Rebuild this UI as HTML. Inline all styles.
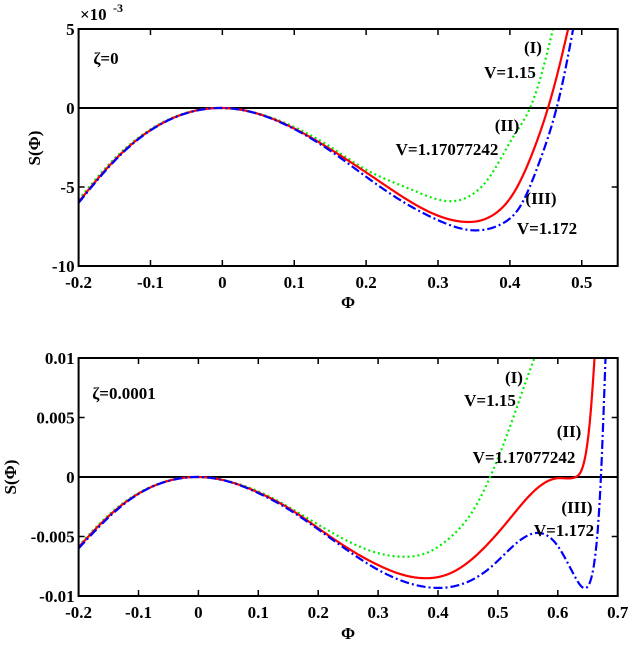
<!DOCTYPE html>
<html><head><meta charset="utf-8"><style>
body{margin:0;background:#fff}
svg text{font-family:"Liberation Serif",serif;font-weight:bold;fill:#000}
</style></head><body>
<svg id="c" width="629" height="641"></svg>
<script>
// Top panel data (units of 1e-3)
const topX=[-0.2,-0.15,-0.1,-0.05,0,0.05,0.1,0.15,0.2,0.265,0.317,0.345,0.372,0.405,0.428,0.445,0.46];
const topGreen=[-5.8,-3.2,-1.35,-0.3,0,-0.35,-1.2,-2.45,-3.9,-5.2,-5.9,-5.55,-4.35,-1.8,0,2.3,5];
const topRedX=[-0.2,-0.15,-0.1,-0.05,0,0.05,0.1,0.15,0.219,0.28,0.335,0.382,0.405,0.433,0.453,0.468,0.481];
const topRed=[-5.95,-3.3,-1.4,-0.32,0,-0.37,-1.3,-2.6,-4.66,-6.4,-7.2,-6.6,-5.4,-2.66,0,2.5,5];
const topBlueX=[-0.2,-0.15,-0.1,-0.05,0,0.05,0.1,0.15,0.2,0.25,0.3,0.34,0.39,0.414,0.442,0.465,0.477,0.488];
const topBlue=[-6.0,-3.35,-1.42,-0.33,0,-0.38,-1.33,-2.7,-4.35,-5.9,-7.1,-7.7,-7.3,-6.25,-3.3,0,2.4,5];
const topYTicks=[-10,-5,0,5];
const topXTicks=[-0.2,-0.1,0,0.1,0.2,0.3,0.4,0.5];
// Bottom panel data
const botGreenX=[-0.2,-0.15,-0.1,-0.05,0,0.05,0.1,0.15,0.2,0.25,0.3,0.34,0.38,0.42,0.46,0.487,0.52,0.55,0.57];
const botGreen=[-0.0058,-0.0032,-0.00135,-0.0003,0,-0.00035,-0.0012,-0.0025,-0.004,-0.0054,-0.0064,-0.0067,-0.0064,-0.0051,-0.0027,0,0.0042,0.0085,0.0112];
const botRedX=[-0.2,-0.15,-0.1,-0.05,0,0.05,0.1,0.15,0.2,0.25,0.3,0.34,0.375,0.42,0.47,0.52,0.56,0.6,0.63,0.645,0.655,0.662];
const botRed=[-0.0059,-0.0033,-0.0014,-0.00032,0,-0.00037,-0.0013,-0.0026,-0.0043,-0.006,-0.0074,-0.0082,-0.0085,-0.0081,-0.0063,-0.0035,-0.0012,-0.0001,0,0.0015,0.0055,0.0105];
const botBlueX=[-0.2,-0.15,-0.1,-0.05,0,0.05,0.1,0.15,0.2,0.25,0.3,0.35,0.39,0.44,0.49,0.53,0.565,0.6,0.63,0.648,0.66,0.672,0.68];
const botBlue=[-0.006,-0.0034,-0.00142,-0.00033,0,-0.00038,-0.00135,-0.0027,-0.0044,-0.0062,-0.0078,-0.0089,-0.0093,-0.009,-0.0075,-0.0056,-0.0047,-0.0058,-0.0085,-0.0093,-0.0075,0,0.0105];
const botYTicks=[-0.01,-0.005,0,0.005,0.01];
const botYLabels=["-0.01","-0.005","0","0.005","0.01"];
const botXTicks=[-0.2,-0.1,0,0.1,0.2,0.3,0.4,0.5,0.6,0.7];

const NS="http://www.w3.org/2000/svg";
const svg=document.getElementById('c');
function el(t,a,p){const e=document.createElementNS(NS,t);for(const k in a)e.setAttribute(k,a[k]);(p||svg).appendChild(e);return e;}
function txt(s,x,y,size,anchor,name,extra){const e=el('text',Object.assign({x:x,y:y,'font-size':size,'text-anchor':anchor||'middle'},extra||{}));e.textContent=s;


return e;}
// natural cubic spline
function spline(xs,ys){
 const n=xs.length,h=[],al=[],l=[1],mu=[0],z=[0],c=new Array(n).fill(0),b=[],d=[];
 for(let i=0;i<n-1;i++)h[i]=xs[i+1]-xs[i];
 for(let i=1;i<n-1;i++)al[i]=3/h[i]*(ys[i+1]-ys[i])-3/h[i-1]*(ys[i]-ys[i-1]);
 for(let i=1;i<n-1;i++){l[i]=2*(xs[i+1]-xs[i-1])-h[i-1]*mu[i-1];mu[i]=h[i]/l[i];z[i]=(al[i]-h[i-1]*z[i-1])/l[i];}
 l[n-1]=1;z[n-1]=0;
 for(let j=n-2;j>=0;j--){c[j]=z[j]-mu[j]*c[j+1];b[j]=(ys[j+1]-ys[j])/h[j]-h[j]*(c[j+1]+2*c[j])/3;d[j]=(c[j+1]-c[j])/(3*h[j]);}
 return t=>{let j=0;while(j<n-2&&t>xs[j+1])j++;const u=t-xs[j];return ys[j]+b[j]*u+c[j]*u*u+d[j]*u*u*u;};
}
function panel(o){
 const L=78.6,R=617.7;
 const sx=v=>L+(v-o.x0)/(o.x1-o.x0)*(R-L);
 const sy=v=>o.B-(v-o.y0)/(o.y1-o.y0)*(o.B-o.T);
 const g=el('g',{});
 
 
 const cp=el('clipPath',{id:o.name+'-clip'},g);
 el('rect',{x:L,y:o.T,width:R-L,height:o.B-o.T},cp);
 const zl=el('line',{x1:L,x2:R,y1:sy(0),y2:sy(0),stroke:'#000','stroke-width':2},g);
 
 
 o.series.forEach(s=>{
  const f=spline(s.x,s.y);
  const x0=s.x[0],x1=s.x[s.x.length-1];
  let d='';
  const N=400;
  for(let i=0;i<=N;i++){const t=x0+(x1-x0)*i/N;d+=(i?'L':'M')+sx(t).toFixed(2)+','+sy(f(t)).toFixed(2);}
  const p=el('path',{d:d,fill:'none',stroke:s.c,'stroke-width':2.2,'stroke-dasharray':s.dash||'', 'clip-path':'url(#'+o.name+'-clip)'},g);
  
  
 });
 const fr=el('rect',{x:L,y:o.T,width:R-L,height:o.B-o.T,fill:'none',stroke:'#000','stroke-width':2},g);
 
 
 o.xt.forEach(v=>{const x=sx(v);
  el('line',{x1:x,x2:x,y1:o.B,y2:o.B-6,stroke:'#000','stroke-width':1.5},g);
  el('line',{x1:x,x2:x,y1:o.T,y2:o.T+6,stroke:'#000','stroke-width':1.5},g);
  txt(String(v),x,o.B+22,17,'middle','x-tick-label');});
 o.yt.forEach((v,i)=>{const y=sy(v);
  el('line',{x1:L,x2:L+6,y1:y,y2:y,stroke:'#000','stroke-width':1.5},g);
  el('line',{x1:R,x2:R-6,y1:y,y2:y,stroke:'#000','stroke-width':1.5},g);
  txt(o.yl?o.yl[i]:String(v),L-4,y+6,17,'end','y-tick-label');});
}
panel({name:'top-panel',x0:-0.2,x1:0.55,y0:-10,y1:5,T:29,B:266,xt:topXTicks,yt:topYTicks,series:[
 {x:topX,y:topGreen,c:'#00ee00',dash:'2,3',name:'curve-v1-15'},
 {x:topRedX,y:topRed,c:'#ff0000',name:'curve-v1-17077242'},
 {x:topBlueX,y:topBlue,c:'#0000ff',dash:'9,3,2,3',name:'curve-v1-172'}]});
panel({name:'bottom-panel',x0:-0.2,x1:0.7,y0:-0.01,y1:0.01,T:358,B:596,xt:botXTicks,yt:botYTicks,yl:botYLabels,series:[
 {x:botGreenX,y:botGreen,c:'#00ee00',dash:'2,3',name:'curve-v1-15'},
 {x:botRedX,y:botRed,c:'#ff0000',name:'curve-v1-17077242'},
 {x:botBlueX,y:botBlue,c:'#0000ff',dash:'9,3,2,3',name:'curve-v1-172'}]});
// annotations
txt('×10',80,20,17,'start','exponent-label',{'font-weight':'normal'});
txt('-3',113,12,12,'start','exponent-power',{'font-weight':'normal'});
txt('ζ=0',106,64,17,'middle','zeta-label');
txt('(I)',533,53,17,'middle','label-i');
txt('V=1.15',510,78,17,'middle','label-v1-15');
txt('(II)',507,131,17,'middle','label-ii');
txt('V=1.17077242',447,155,17,'middle','label-v1-17077242');
txt('(III)',541,204,17,'middle','label-iii');
txt('V=1.172',547,234,17,'middle','label-v1-172');
txt('Φ',348,308,17,'middle','x-axis-title');
txt('S(Φ)',0,0,17,'middle','y-axis-title',{transform:'translate(40,148) rotate(-90)'});
txt('ζ=0.0001',124,399,17,'middle','zeta-label');
txt('(I)',514,383,17,'middle','label-i');
txt('V=1.15',490,406,17,'middle','label-v1-15');
txt('(II)',569,437,17,'middle','label-ii');
txt('V=1.17077242',524,463,17,'middle','label-v1-17077242');
txt('(III)',577,513,17,'middle','label-iii');
txt('V=1.172',564,536,17,'middle','label-v1-172');
txt('Φ',348,639,17,'middle','x-axis-title');
txt('S(Φ)',0,0,17,'middle','y-axis-title',{transform:'translate(16,477) rotate(-90)'});
</script>
</body></html>
